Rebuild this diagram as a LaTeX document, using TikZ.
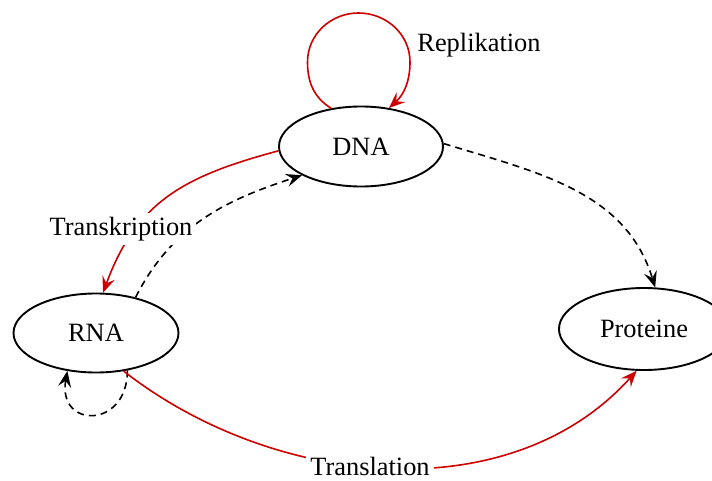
\documentclass[tikz,border=0pt]{standalone}
\usepackage{fontspec}
\setmainfont{Liberation Serif}
\usetikzlibrary{arrows.meta,shapes.geometric}
\definecolor{myred}{RGB}{204,0,0}
\begin{document}
\begin{tikzpicture}[x=1pt,y=1pt,
  every node/.style={font=\fontsize{26.4}{30}\selectfont},
  state/.style={draw, ellipse, line width=1.9pt, inner sep=0pt, minimum width=164pt, minimum height=80pt},
  conn/.style={line width=1.6pt, -{Stealth[length=16pt,width=13pt,inset=6pt]}},
  redconn/.style={conn, myred},
  dashconn/.style={conn, dash pattern=on 7pt off 5pt},
  lbl/.style={fill=white, inner sep=4pt}]
\useasboundingbox (0,0) rectangle (712,480);
\node[state] (dna) at (361,333.5) {DNA};
\node[state, minimum width=165pt, minimum height=79pt] (rna) at (96,147) {RNA};
\node[state, minimum width=170pt, minimum height=82pt] (prot) at (644,151) {Proteine};
% Replikation loop
\coordinate (rl) at (307.5,418);
\coordinate (rt) at (358.5,467);
\coordinate (rr) at (410,418);
\draw[redconn] (dna.128) to[out=148,in=270] (rl) to[out=90,in=180] (rt)
  to[out=0,in=90] (rr) to[out=270,in=42] (dna.54);
% Transkription
\draw[redconn] (dna.183) to[out=195,in=70,looseness=1.1] (rna.80);
% RNA -> DNA dashed
\draw[dashconn] (rna.42) to[out=63,in=198] (dna.206);
% DNA -> Proteine dashed
\draw[dashconn] (dna.2) to[out=343,in=107] (prot.75);
% RNA self loop
\draw[dashconn] (rna.310) to[out=270,in=260,looseness=2.5] (rna.233);
% Translation
\draw[redconn] (rna.306) to[out=322,in=228,looseness=0.95] (prot.260);
% labels
\node (lrep) at (479,435) {Replikation};
\node[lbl] (ltrans) at (121,251) {Transkription};
\node[lbl, inner ysep=2.5pt] (ltl) at (370,14) {Translation};
\end{tikzpicture}
\end{document}
